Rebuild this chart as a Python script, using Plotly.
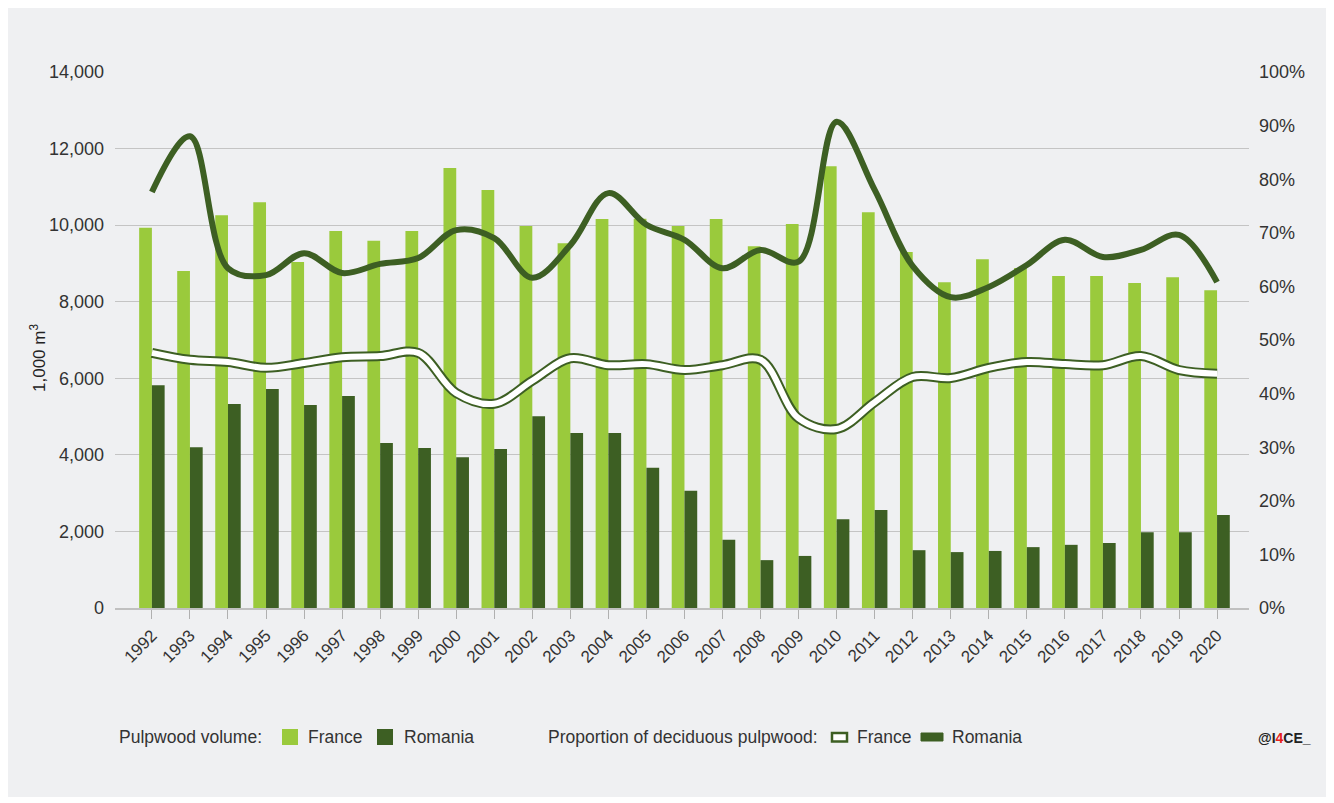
import plotly.graph_objects as go

years = [str(y) for y in range(1992, 2021)]
france_volume = [9930, 8800, 10260, 10600, 9040, 9850, 9590, 9850, 11490, 10920,
                 9980, 9530, 10160, 10170, 9980, 10160, 9450, 10030, 11540, 10340,
                 9300, 8510, 9110, 8880, 8670, 8670, 8490, 8640, 8300]
romania_volume = [5820, 4200, 5330, 5720, 5300, 5540, 4310, 4180, 3940, 4150,
                  5010, 4570, 4570, 3660, 3060, 1780, 1250, 1360, 2320, 2560,
                  1510, 1460, 1490, 1590, 1650, 1700, 1980, 1980, 2430]
france_share = [47.6, 46.3, 45.9, 44.8, 45.7, 46.8, 47.0, 47.6, 40.1, 38.1,
                42.4, 46.6, 45.3, 45.5, 44.4, 45.3, 46.3, 35.4, 33.4, 38.4,
                43.1, 42.9, 44.8, 45.9, 45.5, 45.3, 47.0, 44.4, 43.7]
romania_share = [77.6, 88.0, 63.4, 62.1, 66.2, 62.5, 64.2, 65.3, 70.5, 69.0,
                 61.6, 67.7, 77.4, 71.5, 68.7, 63.4, 66.8, 64.6, 90.7, 78.0,
                 63.8, 58.0, 59.9, 64.0, 68.7, 65.5, 66.8, 69.6, 60.8]

LIGHT = "#9aca3c"
DARK = "#3d5f23"
BG = "#eff0f2"
FONT = "Liberation Sans, Arial, sans-serif"
TXT = "#333333"

OFF = 8  # page body margin
W, H = 1334 - OFF, 803 - OFF
# plot area in page pixel coordinates
L, R, T, B = 115, 1249, 72, 608

def px(x):
    return (x - L) / (R - L)

def py(y):
    return (B - y) / (B - T)

fig = go.Figure()
fig.add_trace(go.Bar(x=years, y=france_volume, marker_color=LIGHT, name="France",
                     marker_line_width=0, showlegend=False))
fig.add_trace(go.Bar(x=years, y=romania_volume, marker_color=DARK, name="Romania",
                     marker_line_width=0, showlegend=False))
fig.add_trace(go.Scatter(x=years, y=[v / 100 for v in france_share], yaxis="y2",
                         mode="lines", line=dict(color=DARK, width=10, shape="spline", smoothing=1.0),
                         showlegend=False, hoverinfo="skip"))
fig.add_trace(go.Scatter(x=years, y=[v / 100 for v in france_share], yaxis="y2",
                         mode="lines", line=dict(color="white", width=6, shape="spline", smoothing=1.0),
                         showlegend=False, name="France share"))
fig.add_trace(go.Scatter(x=years, y=[v / 100 for v in romania_share], yaxis="y2",
                         mode="lines", line=dict(color=DARK, width=6, shape="spline", smoothing=1.0),
                         showlegend=False, name="Romania share"))

shapes = [
    dict(type="rect", xref="paper", yref="paper", x0=px(6), x1=px(1328), y0=py(797), y1=py(6),
         fillcolor=BG, line_width=0, layer="below"),
    dict(type="rect", xref="paper", yref="paper", x0=px(282), x1=px(298), y0=py(745), y1=py(729),
         fillcolor=LIGHT, line_width=0),
    dict(type="rect", xref="paper", yref="paper", x0=px(377), x1=px(393), y0=py(745), y1=py(729),
         fillcolor=DARK, line_width=0),
    dict(type="rect", xref="paper", yref="paper", x0=px(832), x1=px(847), y0=py(741.5), y1=py(733),
         fillcolor="white", line=dict(color=DARK, width=2.5)),
    dict(type="rect", xref="paper", yref="paper", x0=px(921), x1=px(943), y0=py(741), y1=py(733),
         fillcolor=DARK, line=dict(color=DARK, width=1)),
]

def label(text, x, y, size=17.5, anchor="left"):
    return dict(text=text, xref="paper", yref="paper", x=px(x), y=py(y), showarrow=False,
                xanchor=anchor, yanchor="middle", font=dict(size=size, color=TXT, family=FONT))

annotations = [
    dict(text="1,000 m<sup>3</sup>", xref="paper", yref="paper", x=px(38), y=py(358),
         showarrow=False, textangle=-90, font=dict(size=17, color="#222", family=FONT),
         xanchor="center", yanchor="middle"),
    label("Pulpwood volume:", 117, 737),
    label("France", 306, 737),
    label("Romania", 402, 737),
    label("Proportion of deciduous pulpwood:", 546, 737),
    label("France", 855, 737),
    label("Romania", 950, 737),
    dict(text="<b>@I<span style='color:#e8201c'>4</span>CE_</b>", xref="paper", yref="paper",
         x=px(1256), y=py(738), showarrow=False, xanchor="left", yanchor="middle",
         font=dict(size=14, color="#222", family=FONT)),
]

fig.update_layout(
    width=W, height=H,
    margin=dict(l=L - OFF, r=W - (R - OFF), t=T - OFF, b=H - (B - OFF), pad=0),
    paper_bgcolor="white", plot_bgcolor=BG,
    barmode="group", bargap=0.33, bargroupgap=0,
    font=dict(family=FONT, size=17, color=TXT),
    shapes=shapes, annotations=annotations,
    xaxis=dict(type="category", range=[-0.97, 28.84], tickangle=-45, ticks="outside",
               ticklen=9, tickcolor="#b0b0b0", tickwidth=1, showgrid=False,
               showline=True, linecolor="#c0c0c0", linewidth=2,
               tickfont=dict(size=17, color=TXT, family=FONT)),
    yaxis=dict(range=[0, 14000], dtick=2000, tickformat=",", showgrid=True,
               gridcolor="#c4c4c4", gridwidth=1, zeroline=False, ticks="",
               ticklabelstandoff=10, tickfont=dict(size=18, color=TXT, family=FONT)),
    yaxis2=dict(range=[0, 1], dtick=0.1, tickformat=".0%", overlaying="y", side="right",
                showgrid=False, zeroline=False, ticks="", ticklabelstandoff=9,
                tickfont=dict(size=18, color=TXT, family=FONT)),
)

fig.write_html("out.html")
